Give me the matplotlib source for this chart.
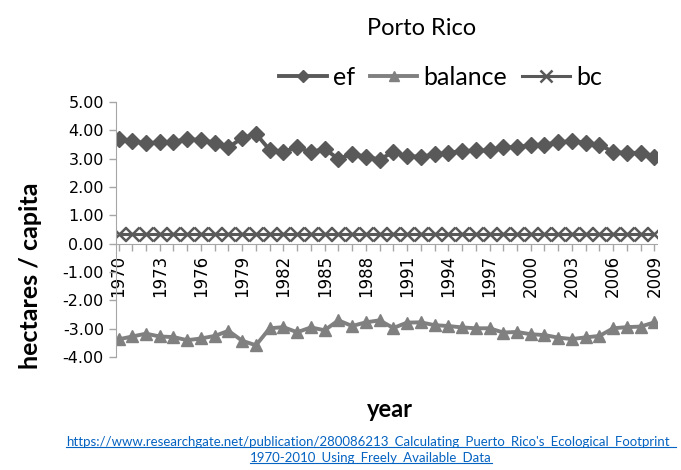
import numpy as np
import matplotlib.pyplot as plt
from matplotlib.lines import Line2D

plt.rcParams['font.family'] = ['DejaVu Sans']

years = list(range(1970, 2010))
ef = [3.70, 3.62, 3.54, 3.58, 3.60, 3.69, 3.66, 3.57, 3.40, 3.73,
      3.88, 3.31, 3.25, 3.40, 3.23, 3.35, 2.99, 3.17, 3.07, 2.97,
      3.24, 3.09, 3.07, 3.15, 3.21, 3.27, 3.29, 3.29, 3.42, 3.40,
      3.48, 3.50, 3.58, 3.62, 3.56, 3.50, 3.23, 3.21, 3.20, 3.07]
balance = [-3.37, -3.27, -3.17, -3.27, -3.29, -3.40, -3.34, -3.25, -3.07, -3.42,
           -3.58, -2.98, -2.94, -3.12, -2.95, -3.05, -2.70, -2.90, -2.77, -2.70,
           -2.97, -2.78, -2.77, -2.87, -2.90, -2.95, -2.98, -2.98, -3.13, -3.11,
           -3.19, -3.22, -3.31, -3.36, -3.30, -3.25, -2.98, -2.94, -2.92, -2.77]
bc = [0.35] * 40
tick_labels = [str(y) for y in years]

fig = plt.figure(figsize=(6.81, 4.70), dpi=100)
ax = fig.add_axes([0.170, 0.240, 0.795, 0.543])

dark = '#595959'
light = '#808080'
ax.plot(years, ef, color=dark, lw=2.8, marker='D', ms=8, label='ef')
ax.plot(years, balance, color=light, lw=2.8, marker='^', ms=9, label='balance')
ax.plot(years, bc, color=dark, lw=2.2, marker='x', ms=10, mew=1.8, label='bc')

ax.set_xlim(1969.8, 2009.2)
ax.set_ylim(-4, 5)
ax.set_yticks(np.arange(-4, 5.1, 1))
ax.set_yticklabels(['%.2f' % v for v in np.arange(-4, 5.1, 1)])
ax.set_xticks(years)
ax.set_xticklabels([t if (int(t) - 1970) % 3 == 0 else '' for t in tick_labels])

for s in ['top', 'right']:
    ax.spines[s].set_visible(False)
ax.spines['bottom'].set_position(('data', 0))
ax.spines['left'].set_color('#a6a6a6')
ax.spines['bottom'].set_color('#a6a6a6')
ax.tick_params(axis='both', colors='#a6a6a6', labelcolor='black', length=5, width=1)
ax.tick_params(axis='y', labelsize=11.5)
ax.tick_params(axis='x', pad=3, labelrotation=90, labelsize=12)

ax.set_ylabel('hectares / capita', fontsize=18, fontweight='bold', family='Lato')
ax.yaxis.set_label_coords(-0.136, 0.32)

fig.text(0.573, 0.128, 'year', fontsize=17, fontweight='bold', family='Lato',
         ha='center', va='center')
fig.text(0.619, 0.940, 'Porto Rico', fontsize=17, family='Lato',
         ha='center', va='center')

ax.legend(loc='center', bbox_to_anchor=(0.60, 1.095), ncol=3, frameon=False,
          prop={'family': 'Lato', 'size': 18}, handlelength=1.9,
          columnspacing=0.6, handletextpad=0.25, markerscale=0.8)

url1 = "https://www.researchgate.net/publication/280086213_Calculating_Puerto_Rico's_Ecological_Footprint_"
url2 = "1970-2010_Using_Freely_Available_Data"
t1 = fig.text(0.545, 0.051, url1, fontsize=9.5, family='Lato', color='#0563c1',
              ha='center', va='baseline')
t2 = fig.text(0.545, 0.017, url2, fontsize=9.5, family='Lato', color='#0563c1',
              ha='center', va='baseline')

fig.canvas.draw()
r = fig.canvas.get_renderer()
for t in (t1, t2):
    bb = t.get_window_extent(renderer=r)
    yb = bb.y0 + 1
    fig.add_artist(Line2D([bb.x0 / fig.bbox.width, bb.x1 / fig.bbox.width],
                          [yb / fig.bbox.height, yb / fig.bbox.height],
                          transform=fig.transFigure, color='#0563c1', lw=0.8))

fig.savefig('out.png', dpi=100)
